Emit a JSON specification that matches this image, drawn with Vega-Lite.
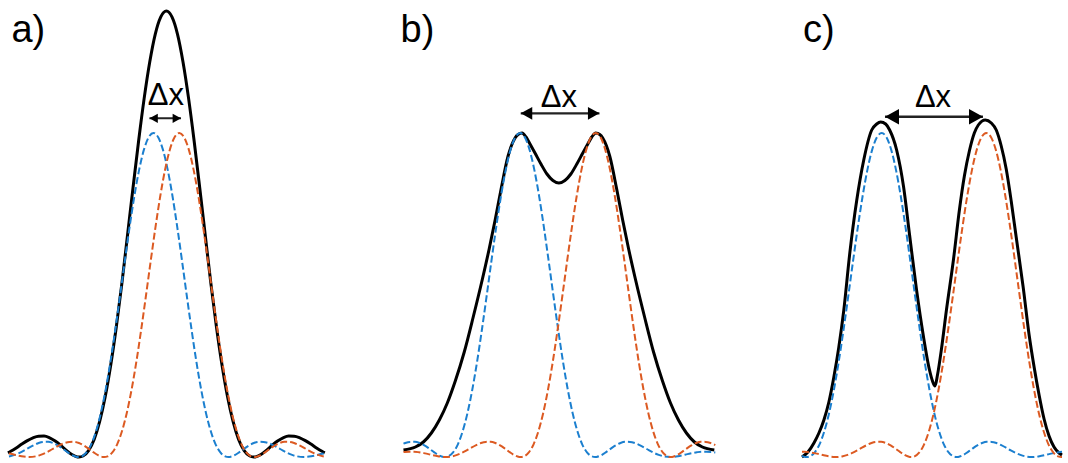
{
"$schema": "https://vega.github.io/schema/vega-lite/v6.json",
"width": 1068, "height": 463, "padding": 0,
"autosize": {"type": "fit", "contains": "padding"},
"background": "white",
"config": {"view": {"stroke": null}},
"datasets": {
"blue": [
{"s":"a","x":9,"v":0.5},{"s":"a","x":10,"v":0.7},{"s":"a","x":14.8,"v":2.1},{"s":"a","x":19.6,"v":4.1},{"s":"a","x":24.4,"v":6.6},{"s":"a","x":29.2,"v":9.4},{"s":"a","x":34,"v":11.9},{"s":"a","x":38.8,"v":14},{"s":"a","x":43.6,"v":15.1},{"s":"a","x":48.4,"v":15.2},{"s":"a","x":53.2,"v":14},{"s":"a","x":58,"v":11.6},{"s":"a","x":62.8,"v":8.4},{"s":"a","x":67.6,"v":4.9},{"s":"a","x":72.4,"v":1.8},{"s":"a","x":77.2,"v":0.1},{"s":"a","x":78.6,"v":0},{"s":"a","x":82,"v":0.7},{"s":"a","x":86.8,"v":4.6},{"s":"a","x":91.6,"v":12.7},{"s":"a","x":96.4,"v":25.7},{"s":"a","x":101.2,"v":43.8},{"s":"a","x":106,"v":67},{"s":"a","x":110.8,"v":94.8},{"s":"a","x":115.6,"v":126.5},{"s":"a","x":120.4,"v":160.5},{"s":"a","x":125.2,"v":195.5},{"s":"a","x":130,"v":229.4},{"s":"a","x":134.8,"v":260.5},{"s":"a","x":139.6,"v":286.9},{"s":"a","x":144.4,"v":307.1},{"s":"a","x":149.2,"v":319.7},{"s":"a","x":154,"v":324},{"s":"a","x":158.8,"v":319.7},{"s":"a","x":163.6,"v":307.1},{"s":"a","x":168.4,"v":286.9},{"s":"a","x":173.2,"v":260.5},{"s":"a","x":178,"v":229.4},{"s":"a","x":182.8,"v":195.5},{"s":"a","x":187.6,"v":160.5},{"s":"a","x":192.4,"v":126.5},{"s":"a","x":197.2,"v":94.8},{"s":"a","x":202,"v":67},{"s":"a","x":206.8,"v":43.8},{"s":"a","x":211.6,"v":25.7},{"s":"a","x":216.4,"v":12.7},{"s":"a","x":221.2,"v":4.6},{"s":"a","x":226,"v":0.7},{"s":"a","x":229.4,"v":0},{"s":"a","x":230.8,"v":0.1},{"s":"a","x":235.6,"v":1.8},{"s":"a","x":240.4,"v":4.9},{"s":"a","x":245.2,"v":8.4},{"s":"a","x":250,"v":11.6},{"s":"a","x":254.8,"v":14},{"s":"a","x":259.6,"v":15.2},{"s":"a","x":264.4,"v":15.1},{"s":"a","x":269.2,"v":14},{"s":"a","x":274,"v":11.9},{"s":"a","x":278.8,"v":9.4},{"s":"a","x":283.6,"v":6.6},{"s":"a","x":288.4,"v":4.1},{"s":"a","x":293.2,"v":2.1},{"s":"a","x":298,"v":0.7},{"s":"a","x":304.8,"v":0},{"s":"a","x":307.6,"v":0.1},{"s":"a","x":312.4,"v":0.7},{"s":"a","x":317.2,"v":1.7},{"s":"a","x":322,"v":2.9},{"s":"a","x":325,"v":3.5},
{"s":"b","x":405,"v":13.3},{"s":"b","x":406.8,"v":14},{"s":"b","x":411.6,"v":15.1},{"s":"b","x":416.4,"v":15.2},{"s":"b","x":421.2,"v":14},{"s":"b","x":426,"v":11.6},{"s":"b","x":430.8,"v":8.4},{"s":"b","x":435.6,"v":4.9},{"s":"b","x":440.4,"v":1.8},{"s":"b","x":445.2,"v":0.1},{"s":"b","x":446.6,"v":0},{"s":"b","x":450,"v":0.7},{"s":"b","x":454.8,"v":4.6},{"s":"b","x":459.6,"v":12.7},{"s":"b","x":464.4,"v":25.7},{"s":"b","x":469.2,"v":43.8},{"s":"b","x":474,"v":67},{"s":"b","x":478.8,"v":94.8},{"s":"b","x":483.6,"v":126.5},{"s":"b","x":488.4,"v":160.5},{"s":"b","x":493.2,"v":195.5},{"s":"b","x":498,"v":229.4},{"s":"b","x":502.8,"v":260.5},{"s":"b","x":507.6,"v":286.9},{"s":"b","x":512.4,"v":307.1},{"s":"b","x":517.2,"v":319.7},{"s":"b","x":522,"v":324},{"s":"b","x":526.8,"v":319.7},{"s":"b","x":531.6,"v":307.1},{"s":"b","x":536.4,"v":286.9},{"s":"b","x":541.2,"v":260.5},{"s":"b","x":546,"v":229.4},{"s":"b","x":550.8,"v":195.5},{"s":"b","x":555.6,"v":160.5},{"s":"b","x":560.4,"v":126.5},{"s":"b","x":565.2,"v":94.8},{"s":"b","x":570,"v":67},{"s":"b","x":574.8,"v":43.8},{"s":"b","x":579.6,"v":25.7},{"s":"b","x":584.4,"v":12.7},{"s":"b","x":589.2,"v":4.6},{"s":"b","x":594,"v":0.7},{"s":"b","x":597.4,"v":0},{"s":"b","x":598.8,"v":0.1},{"s":"b","x":603.6,"v":1.8},{"s":"b","x":608.4,"v":4.9},{"s":"b","x":613.2,"v":8.4},{"s":"b","x":618,"v":11.6},{"s":"b","x":622.8,"v":14},{"s":"b","x":627.6,"v":15.2},{"s":"b","x":632.4,"v":15.1},{"s":"b","x":637.2,"v":14},{"s":"b","x":642,"v":11.9},{"s":"b","x":646.8,"v":9.4},{"s":"b","x":651.6,"v":6.6},{"s":"b","x":656.4,"v":4.1},{"s":"b","x":661.2,"v":2.1},{"s":"b","x":666,"v":0.7},{"s":"b","x":672.8,"v":0},{"s":"b","x":675.6,"v":0.1},{"s":"b","x":680.4,"v":0.7},{"s":"b","x":685.2,"v":1.7},{"s":"b","x":690,"v":2.9},{"s":"b","x":694.8,"v":3.9},{"s":"b","x":699.6,"v":4.8},{"s":"b","x":704.4,"v":5.3},{"s":"b","x":709.2,"v":5.3},{"s":"b","x":714,"v":5},{"s":"b","x":718,"v":4.5},
{"s":"c","x":805,"v":1.2},{"s":"c","x":808.2,"v":0.1},{"s":"c","x":809.6,"v":0},{"s":"c","x":813,"v":0.7},{"s":"c","x":817.8,"v":4.6},{"s":"c","x":822.6,"v":12.7},{"s":"c","x":827.4,"v":25.7},{"s":"c","x":832.2,"v":43.8},{"s":"c","x":837,"v":67},{"s":"c","x":841.8,"v":94.8},{"s":"c","x":846.6,"v":126.5},{"s":"c","x":851.4,"v":160.5},{"s":"c","x":856.2,"v":195.5},{"s":"c","x":861,"v":229.4},{"s":"c","x":865.8,"v":260.5},{"s":"c","x":870.6,"v":286.9},{"s":"c","x":875.4,"v":307.1},{"s":"c","x":880.2,"v":319.7},{"s":"c","x":885,"v":324},{"s":"c","x":889.8,"v":319.7},{"s":"c","x":894.6,"v":307.1},{"s":"c","x":899.4,"v":286.9},{"s":"c","x":904.2,"v":260.5},{"s":"c","x":909,"v":229.4},{"s":"c","x":913.8,"v":195.5},{"s":"c","x":918.6,"v":160.5},{"s":"c","x":923.4,"v":126.5},{"s":"c","x":928.2,"v":94.8},{"s":"c","x":933,"v":67},{"s":"c","x":937.8,"v":43.8},{"s":"c","x":942.6,"v":25.7},{"s":"c","x":947.4,"v":12.7},{"s":"c","x":952.2,"v":4.6},{"s":"c","x":957,"v":0.7},{"s":"c","x":960.4,"v":0},{"s":"c","x":961.8,"v":0.1},{"s":"c","x":966.6,"v":1.8},{"s":"c","x":971.4,"v":4.9},{"s":"c","x":976.2,"v":8.4},{"s":"c","x":981,"v":11.6},{"s":"c","x":985.8,"v":14},{"s":"c","x":990.6,"v":15.2},{"s":"c","x":995.4,"v":15.1},{"s":"c","x":1000.2,"v":14},{"s":"c","x":1005,"v":11.9},{"s":"c","x":1009.8,"v":9.4},{"s":"c","x":1014.6,"v":6.6},{"s":"c","x":1019.4,"v":4.1},{"s":"c","x":1024.2,"v":2.1},{"s":"c","x":1029,"v":0.7},{"s":"c","x":1035.8,"v":0},{"s":"c","x":1038.6,"v":0.1},{"s":"c","x":1043.4,"v":0.7},{"s":"c","x":1048.2,"v":1.7},{"s":"c","x":1053,"v":2.9},{"s":"c","x":1057.8,"v":3.9},{"s":"c","x":1062.6,"v":4.8},{"s":"c","x":1066,"v":5.2}
],
"orange": [
{"s":"a","x":9,"v":3.5},{"s":"a","x":12,"v":2.9},{"s":"a","x":16.8,"v":1.7},{"s":"a","x":21.6,"v":0.7},{"s":"a","x":26.4,"v":0.1},{"s":"a","x":29.2,"v":0},{"s":"a","x":36,"v":0.7},{"s":"a","x":40.8,"v":2.1},{"s":"a","x":45.6,"v":4.1},{"s":"a","x":50.4,"v":6.6},{"s":"a","x":55.2,"v":9.4},{"s":"a","x":60,"v":11.9},{"s":"a","x":64.8,"v":14},{"s":"a","x":69.6,"v":15.1},{"s":"a","x":74.4,"v":15.2},{"s":"a","x":79.2,"v":14},{"s":"a","x":84,"v":11.6},{"s":"a","x":88.8,"v":8.4},{"s":"a","x":93.6,"v":4.9},{"s":"a","x":98.4,"v":1.8},{"s":"a","x":103.2,"v":0.1},{"s":"a","x":104.6,"v":0},{"s":"a","x":108,"v":0.7},{"s":"a","x":112.8,"v":4.6},{"s":"a","x":117.6,"v":12.7},{"s":"a","x":122.4,"v":25.7},{"s":"a","x":127.2,"v":43.8},{"s":"a","x":132,"v":67},{"s":"a","x":136.8,"v":94.8},{"s":"a","x":141.6,"v":126.5},{"s":"a","x":146.4,"v":160.5},{"s":"a","x":151.2,"v":195.5},{"s":"a","x":156,"v":229.4},{"s":"a","x":160.8,"v":260.5},{"s":"a","x":165.6,"v":286.9},{"s":"a","x":170.4,"v":307.1},{"s":"a","x":175.2,"v":319.7},{"s":"a","x":180,"v":324},{"s":"a","x":184.8,"v":319.7},{"s":"a","x":189.6,"v":307.1},{"s":"a","x":194.4,"v":286.9},{"s":"a","x":199.2,"v":260.5},{"s":"a","x":204,"v":229.4},{"s":"a","x":208.8,"v":195.5},{"s":"a","x":213.6,"v":160.5},{"s":"a","x":218.4,"v":126.5},{"s":"a","x":223.2,"v":94.8},{"s":"a","x":228,"v":67},{"s":"a","x":232.8,"v":43.8},{"s":"a","x":237.6,"v":25.7},{"s":"a","x":242.4,"v":12.7},{"s":"a","x":247.2,"v":4.6},{"s":"a","x":252,"v":0.7},{"s":"a","x":255.4,"v":0},{"s":"a","x":256.8,"v":0.1},{"s":"a","x":261.6,"v":1.8},{"s":"a","x":266.4,"v":4.9},{"s":"a","x":271.2,"v":8.4},{"s":"a","x":276,"v":11.6},{"s":"a","x":280.8,"v":14},{"s":"a","x":285.6,"v":15.2},{"s":"a","x":290.4,"v":15.1},{"s":"a","x":295.2,"v":14},{"s":"a","x":300,"v":11.9},{"s":"a","x":304.8,"v":9.4},{"s":"a","x":309.6,"v":6.6},{"s":"a","x":314.4,"v":4.1},{"s":"a","x":319.2,"v":2.1},{"s":"a","x":324,"v":0.7},{"s":"a","x":325,"v":0.5},
{"s":"b","x":405,"v":4.9},{"s":"b","x":406,"v":5},{"s":"b","x":410.8,"v":5.3},{"s":"b","x":415.6,"v":5.3},{"s":"b","x":420.4,"v":4.8},{"s":"b","x":425.2,"v":3.9},{"s":"b","x":430,"v":2.9},{"s":"b","x":434.8,"v":1.7},{"s":"b","x":439.6,"v":0.7},{"s":"b","x":444.4,"v":0.1},{"s":"b","x":447.2,"v":0},{"s":"b","x":454,"v":0.7},{"s":"b","x":458.8,"v":2.1},{"s":"b","x":463.6,"v":4.1},{"s":"b","x":468.4,"v":6.6},{"s":"b","x":473.2,"v":9.4},{"s":"b","x":478,"v":11.9},{"s":"b","x":482.8,"v":14},{"s":"b","x":487.6,"v":15.1},{"s":"b","x":492.4,"v":15.2},{"s":"b","x":497.2,"v":14},{"s":"b","x":502,"v":11.6},{"s":"b","x":506.8,"v":8.4},{"s":"b","x":511.6,"v":4.9},{"s":"b","x":516.4,"v":1.8},{"s":"b","x":521.2,"v":0.1},{"s":"b","x":522.6,"v":0},{"s":"b","x":526,"v":0.7},{"s":"b","x":530.8,"v":4.6},{"s":"b","x":535.6,"v":12.7},{"s":"b","x":540.4,"v":25.7},{"s":"b","x":545.2,"v":43.8},{"s":"b","x":550,"v":67},{"s":"b","x":554.8,"v":94.8},{"s":"b","x":559.6,"v":126.5},{"s":"b","x":564.4,"v":160.5},{"s":"b","x":569.2,"v":195.5},{"s":"b","x":574,"v":229.4},{"s":"b","x":578.8,"v":260.5},{"s":"b","x":583.6,"v":286.9},{"s":"b","x":588.4,"v":307.1},{"s":"b","x":593.2,"v":319.7},{"s":"b","x":598,"v":324},{"s":"b","x":602.8,"v":319.7},{"s":"b","x":607.6,"v":307.1},{"s":"b","x":612.4,"v":286.9},{"s":"b","x":617.2,"v":260.5},{"s":"b","x":622,"v":229.4},{"s":"b","x":626.8,"v":195.5},{"s":"b","x":631.6,"v":160.5},{"s":"b","x":636.4,"v":126.5},{"s":"b","x":641.2,"v":94.8},{"s":"b","x":646,"v":67},{"s":"b","x":650.8,"v":43.8},{"s":"b","x":655.6,"v":25.7},{"s":"b","x":660.4,"v":12.7},{"s":"b","x":665.2,"v":4.6},{"s":"b","x":670,"v":0.7},{"s":"b","x":673.4,"v":0},{"s":"b","x":674.8,"v":0.1},{"s":"b","x":679.6,"v":1.8},{"s":"b","x":684.4,"v":4.9},{"s":"b","x":689.2,"v":8.4},{"s":"b","x":694,"v":11.6},{"s":"b","x":698.8,"v":14},{"s":"b","x":703.6,"v":15.2},{"s":"b","x":708.4,"v":15.1},{"s":"b","x":713.2,"v":14},{"s":"b","x":718,"v":11.9},
{"s":"c","x":805,"v":5.3},{"s":"c","x":807.6,"v":5.3},{"s":"c","x":812.4,"v":4.8},{"s":"c","x":817.2,"v":3.9},{"s":"c","x":822,"v":2.9},{"s":"c","x":826.8,"v":1.7},{"s":"c","x":831.6,"v":0.7},{"s":"c","x":836.4,"v":0.1},{"s":"c","x":839.2,"v":0},{"s":"c","x":846,"v":0.7},{"s":"c","x":850.8,"v":2.1},{"s":"c","x":855.6,"v":4.1},{"s":"c","x":860.4,"v":6.6},{"s":"c","x":865.2,"v":9.4},{"s":"c","x":870,"v":11.9},{"s":"c","x":874.8,"v":14},{"s":"c","x":879.6,"v":15.1},{"s":"c","x":884.4,"v":15.2},{"s":"c","x":889.2,"v":14},{"s":"c","x":894,"v":11.6},{"s":"c","x":898.8,"v":8.4},{"s":"c","x":903.6,"v":4.9},{"s":"c","x":908.4,"v":1.8},{"s":"c","x":913.2,"v":0.1},{"s":"c","x":914.6,"v":0},{"s":"c","x":918,"v":0.7},{"s":"c","x":922.8,"v":4.6},{"s":"c","x":927.6,"v":12.7},{"s":"c","x":932.4,"v":25.7},{"s":"c","x":937.2,"v":43.8},{"s":"c","x":942,"v":67},{"s":"c","x":946.8,"v":94.8},{"s":"c","x":951.6,"v":126.5},{"s":"c","x":956.4,"v":160.5},{"s":"c","x":961.2,"v":195.5},{"s":"c","x":966,"v":229.4},{"s":"c","x":970.8,"v":260.5},{"s":"c","x":975.6,"v":286.9},{"s":"c","x":980.4,"v":307.1},{"s":"c","x":985.2,"v":319.7},{"s":"c","x":990,"v":324},{"s":"c","x":994.8,"v":319.7},{"s":"c","x":999.6,"v":307.1},{"s":"c","x":1004.4,"v":286.9},{"s":"c","x":1009.2,"v":260.5},{"s":"c","x":1014,"v":229.4},{"s":"c","x":1018.8,"v":195.5},{"s":"c","x":1023.6,"v":160.5},{"s":"c","x":1028.4,"v":126.5},{"s":"c","x":1033.2,"v":94.8},{"s":"c","x":1038,"v":67},{"s":"c","x":1042.8,"v":43.8},{"s":"c","x":1047.6,"v":25.7},{"s":"c","x":1052.4,"v":12.7},{"s":"c","x":1057.2,"v":4.6},{"s":"c","x":1062,"v":0.7},{"s":"c","x":1065.4,"v":0},{"s":"c","x":1066,"v":0}
],
"black": [
{"s":"a","x":8,"v":4.2},{"s":"a","x":10.8,"v":5.7},{"s":"a","x":16.3,"v":9.1},{"s":"a","x":21.9,"v":12.9},{"s":"a","x":27.5,"v":16.4},{"s":"a","x":33.1,"v":19.2},{"s":"a","x":38.7,"v":20.8},{"s":"a","x":44.2,"v":20.9},{"s":"a","x":49.8,"v":19.2},{"s":"a","x":55.4,"v":16},{"s":"a","x":61,"v":11.6},{"s":"a","x":66.6,"v":6.7},{"s":"a","x":72.1,"v":2.5},{"s":"a","x":77.7,"v":0.1},{"s":"a","x":79.3,"v":0},{"s":"a","x":83.3,"v":1},{"s":"a","x":88.9,"v":6.4},{"s":"a","x":94.5,"v":17.5},{"s":"a","x":100,"v":35.3},{"s":"a","x":105.6,"v":60.2},{"s":"a","x":111.2,"v":92.2},{"s":"a","x":116.8,"v":130.5},{"s":"a","x":122.4,"v":174.1},{"s":"a","x":127.9,"v":221},{"s":"a","x":133.5,"v":269.1},{"s":"a","x":139.1,"v":315.8},{"s":"a","x":144.7,"v":358.6},{"s":"a","x":150.3,"v":395},{"s":"a","x":155.8,"v":422.7},{"s":"a","x":161.4,"v":440.1},{"s":"a","x":167,"v":446},{"s":"a","x":172.6,"v":440.1},{"s":"a","x":178.2,"v":422.7},{"s":"a","x":183.7,"v":395},{"s":"a","x":189.3,"v":358.6},{"s":"a","x":194.9,"v":315.8},{"s":"a","x":200.5,"v":269.1},{"s":"a","x":206.1,"v":221},{"s":"a","x":211.6,"v":174.1},{"s":"a","x":217.2,"v":130.5},{"s":"a","x":222.8,"v":92.2},{"s":"a","x":228.4,"v":60.2},{"s":"a","x":234,"v":35.3},{"s":"a","x":239.5,"v":17.5},{"s":"a","x":245.1,"v":6.4},{"s":"a","x":250.7,"v":1},{"s":"a","x":254.7,"v":0},{"s":"a","x":256.3,"v":0.1},{"s":"a","x":261.9,"v":2.5},{"s":"a","x":267.4,"v":6.7},{"s":"a","x":273,"v":11.6},{"s":"a","x":278.6,"v":16},{"s":"a","x":284.2,"v":19.2},{"s":"a","x":289.8,"v":20.9},{"s":"a","x":295.3,"v":20.8},{"s":"a","x":300.9,"v":19.2},{"s":"a","x":306.5,"v":16.4},{"s":"a","x":312.1,"v":12.9},{"s":"a","x":317.7,"v":9.1},{"s":"a","x":323.2,"v":5.7},{"s":"a","x":326,"v":4.2},
{"s":"b","x":405,"v":7},{"s":"b","x":417,"v":10},{"s":"b","x":425,"v":15},{"s":"b","x":433,"v":24},{"s":"b","x":441,"v":37},{"s":"b","x":449,"v":54},{"s":"b","x":457,"v":76},{"s":"b","x":466,"v":105},{"s":"b","x":475,"v":140},{"s":"b","x":484,"v":177},{"s":"b","x":491,"v":208},{"s":"b","x":497,"v":237},{"s":"b","x":503,"v":268},{"s":"b","x":510,"v":301},{"s":"b","x":517,"v":319},{"s":"b","x":520,"v":322.5},{"s":"b","x":524,"v":324},{"s":"b","x":528,"v":320},{"s":"b","x":532,"v":313},{"s":"b","x":537,"v":304},{"s":"b","x":543,"v":293},{"s":"b","x":549,"v":283},{"s":"b","x":555,"v":276.5},{"s":"b","x":561,"v":274},{"s":"b","x":567,"v":276.5},{"s":"b","x":573,"v":283},{"s":"b","x":579,"v":293},{"s":"b","x":585,"v":304},{"s":"b","x":590,"v":313},{"s":"b","x":594,"v":320},{"s":"b","x":598,"v":324},{"s":"b","x":602,"v":322.5},{"s":"b","x":605,"v":319},{"s":"b","x":612,"v":301},{"s":"b","x":619,"v":268},{"s":"b","x":625,"v":237},{"s":"b","x":631,"v":208},{"s":"b","x":638,"v":177},{"s":"b","x":647,"v":140},{"s":"b","x":656,"v":105},{"s":"b","x":665,"v":76},{"s":"b","x":673,"v":54},{"s":"b","x":681,"v":37},{"s":"b","x":689,"v":24},{"s":"b","x":697,"v":15},{"s":"b","x":705,"v":10},{"s":"b","x":717,"v":7},
{"s":"c","x":805,"v":0},{"s":"c","x":811,"v":5},{"s":"c","x":817,"v":14},{"s":"c","x":822,"v":24},{"s":"c","x":827,"v":37},{"s":"c","x":832,"v":55},{"s":"c","x":837,"v":80},{"s":"c","x":842,"v":110},{"s":"c","x":847,"v":147},{"s":"c","x":853,"v":204},{"s":"c","x":860,"v":257},{"s":"c","x":867,"v":297},{"s":"c","x":875,"v":327},{"s":"c","x":880,"v":333},{"s":"c","x":884,"v":335},{"s":"c","x":889,"v":333},{"s":"c","x":893,"v":327},{"s":"c","x":900,"v":307},{"s":"c","x":907,"v":270},{"s":"c","x":913,"v":222},{"s":"c","x":920,"v":167},{"s":"c","x":927,"v":120},{"s":"c","x":933,"v":87},{"s":"c","x":936,"v":76},{"s":"c","x":938.5,"v":71},{"s":"c","x":941,"v":82},{"s":"c","x":945,"v":108},{"s":"c","x":950,"v":147},{"s":"c","x":957,"v":197},{"s":"c","x":963,"v":247},{"s":"c","x":968,"v":281},{"s":"c","x":973,"v":306},{"s":"c","x":978,"v":324},{"s":"c","x":982,"v":332},{"s":"c","x":989,"v":337},{"s":"c","x":995,"v":334},{"s":"c","x":1000,"v":327},{"s":"c","x":1005,"v":311},{"s":"c","x":1010,"v":288},{"s":"c","x":1015,"v":256},{"s":"c","x":1020,"v":220},{"s":"c","x":1027,"v":170},{"s":"c","x":1033,"v":122},{"s":"c","x":1038,"v":90},{"s":"c","x":1043,"v":62},{"s":"c","x":1048,"v":38},{"s":"c","x":1053,"v":21},{"s":"c","x":1058,"v":10},{"s":"c","x":1063,"v":4},{"s":"c","x":1066,"v":2}
],
"arrows": [
{"s":"a","x":150,"x2":181.7,"v":338.7},
{"s":"b","x":522.7,"x2":601.7,"v":343.7},
{"s":"c","x":888.3,"x2":986.7,"v":340.3}
],
"heads": [
{"s":"a","x":150,"v":338.7,"d":"L"},{"s":"a","x":181.7,"v":338.7,"d":"R"},
{"s":"b","x":522.7,"v":343.7,"d":"L"},{"s":"b","x":601.7,"v":343.7,"d":"R"},
{"s":"c","x":888.3,"v":340.3,"d":"L"},{"s":"c","x":986.7,"v":340.3,"d":"R"}
],
"dx": [
{"s":"a","x":166.5,"v":352,"t":"Δx"},
{"s":"b","x":561,"v":350.3,"t":"Δx"},
{"s":"c","x":936.5,"v":350.3,"t":"Δx"}
],
"labels": [
{"x":11.5,"v":415,"t":"a)"},
{"x":402,"v":415,"t":"b)"},
{"x":806,"v":415,"t":"c)"}
]
},
"layer": [
{
"data": {"name": "black"},
"mark": {"type": "line", "color": "#000000", "strokeWidth": 3, "interpolate": "monotone"},
"encoding": {
"x": {"field": "x", "type": "quantitative", "scale": {"domain": [0, 1068], "nice": false, "zero": false}, "axis": null},
"y": {"field": "v", "type": "quantitative", "scale": {"domain": [-6, 457], "nice": false, "zero": false}, "axis": null},
"detail": {"field": "s", "type": "nominal"}
}
},
{
"data": {"name": "blue"},
"mark": {"type": "line", "color": "#1B7FCF", "strokeWidth": 2, "strokeDash": [7, 3], "interpolate": "monotone"},
"encoding": {
"x": {"field": "x", "type": "quantitative", "scale": {"domain": [0, 1068], "nice": false, "zero": false}, "axis": null},
"y": {"field": "v", "type": "quantitative", "scale": {"domain": [-6, 457], "nice": false, "zero": false}, "axis": null},
"detail": {"field": "s", "type": "nominal"}
}
},
{
"data": {"name": "orange"},
"mark": {"type": "line", "color": "#DC5A22", "strokeWidth": 2, "strokeDash": [7, 3], "interpolate": "monotone"},
"encoding": {
"x": {"field": "x", "type": "quantitative", "scale": {"domain": [0, 1068], "nice": false, "zero": false}, "axis": null},
"y": {"field": "v", "type": "quantitative", "scale": {"domain": [-6, 457], "nice": false, "zero": false}, "axis": null},
"detail": {"field": "s", "type": "nominal"}
}
},
{
"data": {"name": "arrows"},
"mark": {"type": "rule", "color": "#222222"},
"encoding": {
"x": {"field": "x", "type": "quantitative", "scale": {"domain": [0, 1068], "nice": false, "zero": false}, "axis": null},
"x2": {"field": "x2"},
"y": {"field": "v", "type": "quantitative", "scale": {"domain": [-6, 457], "nice": false, "zero": false}, "axis": null},
"strokeWidth": {"field": "s", "type": "nominal", "scale": {"domain": ["a", "b", "c"], "range": [2, 2.4, 2.4]}, "legend": null}
}
},
{
"data": {"name": "heads"},
"mark": {"type": "point", "filled": true, "color": "#000000", "opacity": 1, "strokeWidth": 0},
"encoding": {
"x": {"field": "x", "type": "quantitative", "scale": {"domain": [0, 1068], "nice": false, "zero": false}, "axis": null},
"y": {"field": "v", "type": "quantitative", "scale": {"domain": [-6, 457], "nice": false, "zero": false}, "axis": null},
"shape": {"field": "d", "type": "nominal", "scale": {"domain": ["L", "R"], "range": ["M0,0L2,-1.1L2,1.1Z", "M0,0L-2,-1.1L-2,1.1Z"]}, "legend": null},
"size": {"field": "s", "type": "nominal", "scale": {"domain": ["a", "b", "c"], "range": [70, 196, 225]}, "legend": null}
}
},
{
"data": {"name": "dx"},
"mark": {"type": "text", "font": "Liberation Sans", "fontSize": 31, "align": "center", "baseline": "alphabetic", "color": "#000000"},
"encoding": {
"x": {"field": "x", "type": "quantitative", "scale": {"domain": [0, 1068], "nice": false, "zero": false}, "axis": null},
"y": {"field": "v", "type": "quantitative", "scale": {"domain": [-6, 457], "nice": false, "zero": false}, "axis": null},
"text": {"field": "t", "type": "nominal"}
}
},
{
"data": {"name": "labels"},
"mark": {"type": "text", "font": "Liberation Sans", "fontSize": 38, "align": "left", "baseline": "alphabetic", "color": "#000000"},
"encoding": {
"x": {"field": "x", "type": "quantitative", "scale": {"domain": [0, 1068], "nice": false, "zero": false}, "axis": null},
"y": {"field": "v", "type": "quantitative", "scale": {"domain": [-6, 457], "nice": false, "zero": false}, "axis": null},
"text": {"field": "t", "type": "nominal"}
}
}
]
}
